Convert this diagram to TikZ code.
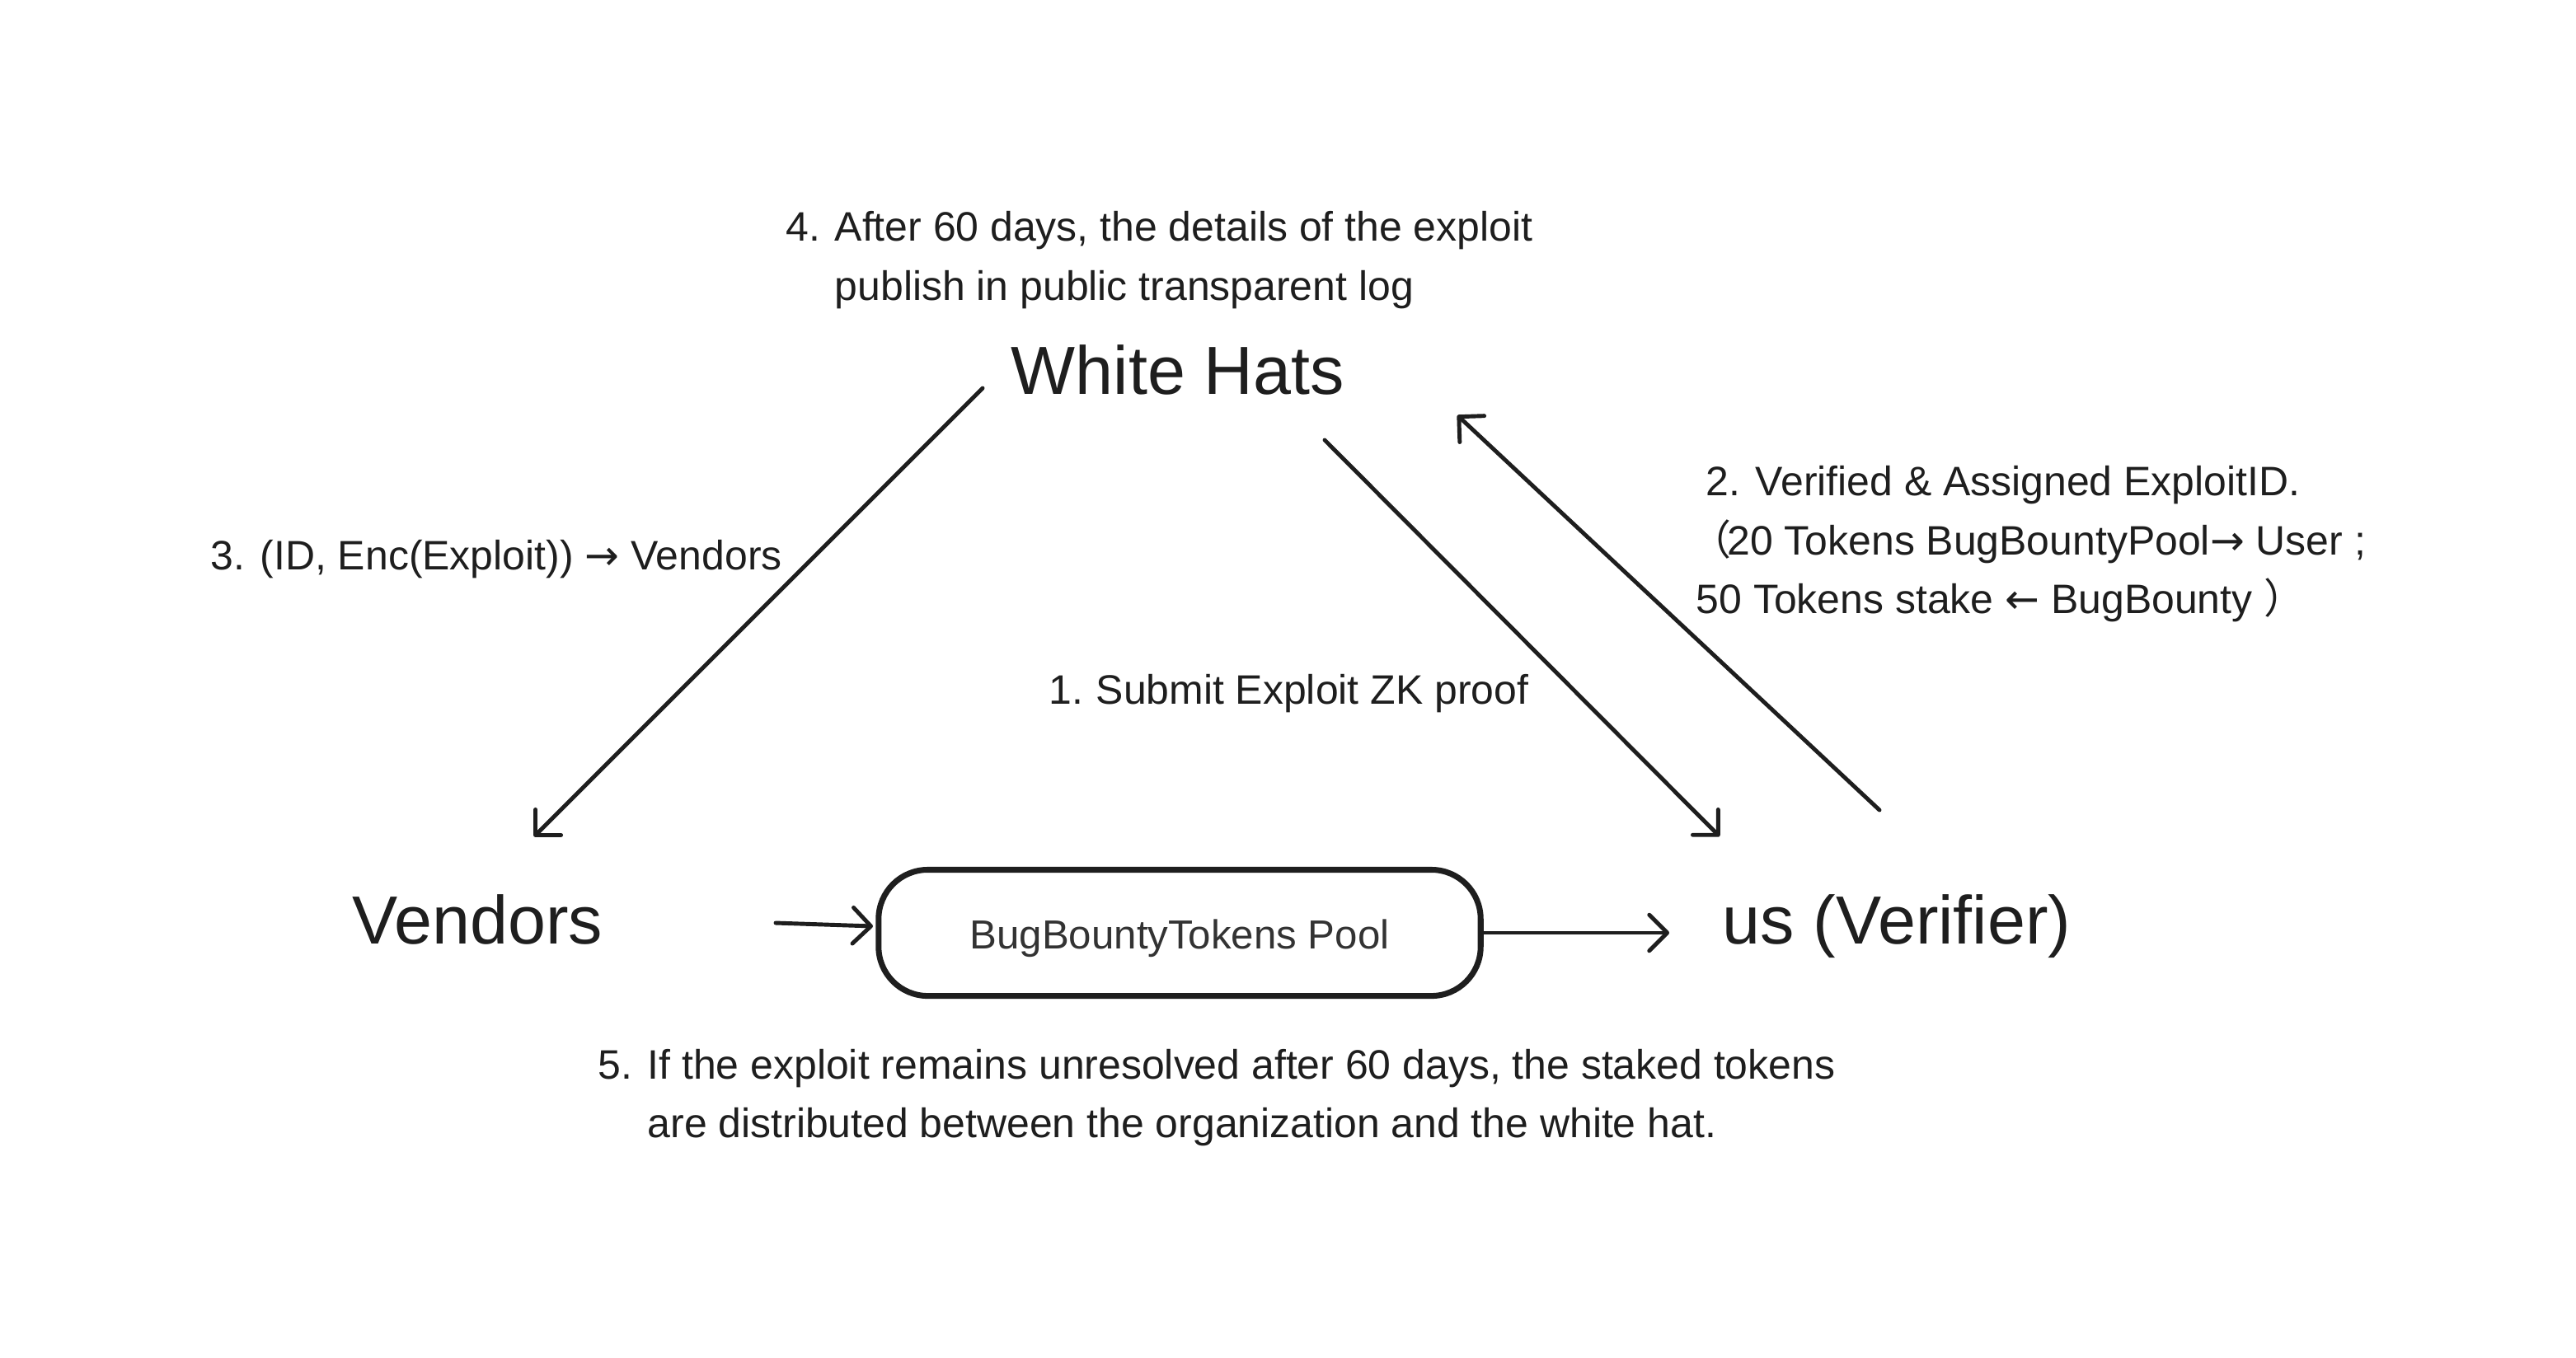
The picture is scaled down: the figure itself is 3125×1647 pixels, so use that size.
\documentclass[tikz,border=0pt]{standalone}
\usepackage{fontspec}
\setmainfont{Liberation Sans}
\newfontfamily\cjkfont{Noto Sans CJK SC}
\newfontfamily\arrfont{DejaVu Sans}
\usetikzlibrary{arrows.meta}
\definecolor{ink}{HTML}{1E1E1E}
\definecolor{poolink}{HTML}{333333}
\newcommand{\rarr}{{\arrfont →}}
\newcommand{\larr}{{\arrfont ←}}
\begin{document}
\begin{tikzpicture}[x=0.01cm,y=-0.01cm,
  lbl/.style={anchor=base west,inner sep=0pt,text=ink,font=\fontsize{14.2}{17}\selectfont},
  big/.style={anchor=base west,inner sep=0pt,text=ink,font=\fontsize{23.5}{28}\selectfont},
  conn/.style={draw=ink,line width=1.4pt,line cap=round,-{Straight Barb[length=6.2pt,width=12.4pt,line cap=round,line join=round]}},
  pool/.style={draw=ink,line width=2pt,rounded corners=17pt,minimum width=7.3cm,minimum height=1.53cm,inner sep=0pt}]
\useasboundingbox[fill=white] (0,0) rectangle (3125,1647);

% main nodes
\node[big] (wh) at (1226,478) {White Hats};
\node[big] (ven) at (427,1145) {Vendors};
\node[big] (ver) at (2089,1145) {us (Verifier)};
\node[pool] (pool) at (1431,1132) {};
\node[anchor=base,inner sep=0pt,text=poolink,font=\fontsize{14}{17}\selectfont] (pooltxt) at (1431,1151) {BugBountyTokens Pool};

% labels
\node[lbl] (n4) at (953,292) {4.};
\node[lbl] (t4a) at (1012,292) {After 60 days, the details of the exploit};
\node[lbl] (t4b) at (1012,364) {publish in public transparent log};

\node[lbl] (n3) at (255,691) {3.};
\node[lbl] (t3) at (315,691) {(ID, Enc(Exploit)) \rarr{} Vendors};

\node[lbl] (n2) at (2069,601) {2.};
\node[lbl] (t2a) at (2129,601) {Verified \& Assigned ExploitID.};
\node[lbl] (t2b) at (2050,673) {{\cjkfont （}\kern-1.5pt 20 Tokens BugBountyPool\rarr{} User ;};
\node[lbl] (t2c) at (2057,744) {50 Tokens stake \larr{} BugBounty {\cjkfont ）}};

\node[lbl] (n1) at (1272,854) {1.};
\node[lbl] (t1) at (1329,854) {Submit Exploit ZK proof};

\node[lbl] (n5) at (725,1309) {5.};
\node[lbl] (t5a) at (785,1309) {If the exploit remains unresolved after 60 days, the staked tokens};
\node[lbl] (t5b) at (785,1380) {are distributed between the organization and the white hat.};

% connector end points
\coordinate (a3s) at (1192,471);
\coordinate (a3e) at (648,1015);
\coordinate (a1s) at (1607,534);
\coordinate (a1e) at (2086,1015);
\coordinate (a2s) at (2280,983);
\coordinate (a2e) at (1768,504);
\coordinate (vin) at (941,1120);
\coordinate (pin) at (1059,1124);
\coordinate (pout) at (2025,1132);

\draw[conn] (a3s) -- (a3e);
\draw[conn] (a1s) -- (a1e);
\draw[conn] (a2s) -- (a2e);
\draw[conn] (vin) -- (pin);
\draw[conn] (pool.east) -- (pout);
\end{tikzpicture}
\end{document}
